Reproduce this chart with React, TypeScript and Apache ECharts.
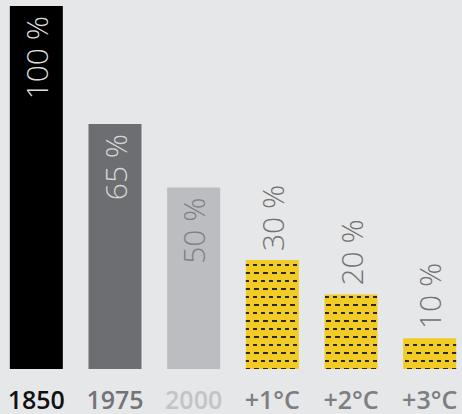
import React, { useEffect, useRef } from "react";
import * as echarts from "echarts";

const categories = ["1850", "1975", "2000", "+1°C", "+2°C", "+3°C"];
const values = [100, 67.5, 50, 30, 20.5, 8.5];
const valueLabels = ["100 %", "65 %", "50 %", "30 %", "20 %", "10 %"];
const barColors = ["#000000", "#6d6e71", "#bcbdc0", "#f2cb24", "#f2cb24", "#f2cb24"];
const labelColors = ["#dcdddf", "#d6d7d9", "#7f8083", "#707174", "#707174", "#707174"];
const labelInside = [true, true, true, false, false, false];
const catColors = ["#111111", "#737477", "#c3c4c6", "#7d7e81", "#7d7e81", "#7d7e81"];
const patterned = [false, false, false, true, true, true];

export default function App() {
  const ref = useRef<HTMLDivElement>(null);
  useEffect(() => {
    if (!ref.current) return;
    const chart = echarts.init(ref.current, null, { renderer: "svg" });
    const decal = {
      symbol: "rect",
      symbolSize: 1,
      color: "#2a2a2a",
      dashArrayX: [
        [4, 3.3],
        [0.35, 3.3, 3.65, 0],
      ],
      dashArrayY: [1.3, 5.3],
      rotation: 0,
    };
    chart.setOption({
      animation: false,
      backgroundColor: "#e6e7e8",
      grid: { left: 0, right: 0, top: 6, bottom: 45, containLabel: false },
      xAxis: {
        type: "category",
        data: categories.map((c, i) => ({
          value: c,
          textStyle: { color: catColors[i] },
        })),
        axisLine: { show: false },
        axisTick: { show: false },
        axisLabel: {
          margin: 17,
          fontSize: 25,
          fontWeight: 600,
          fontFamily: "Open Sans",
          interval: 0,
        },
      },
      yAxis: {
        type: "value",
        min: 0,
        max: 100,
        show: false,
        splitLine: { show: false },
      },
      series: [
        {
          type: "bar",
          barWidth: 53,
          data: values.map((v, i) => ({
            value: v,
            itemStyle: {
              color: barColors[i],
              decal: patterned[i] ? decal : undefined,
            },
            label: {
              show: true,
              formatter: valueLabels[i],
              rotate: 90,
              position: labelInside[i] ? "insideTop" : "top",
              align: labelInside[i] ? "right" : "left",
              verticalAlign: "middle",
              distance: labelInside[i] ? 10 : 9,
              color: labelColors[i],
              fontSize: 30,
              fontWeight: 300,
              fontFamily: "Open Sans",
            },
          })),
        },
      ],
    });
    return () => chart.dispose();
  }, []);
  return (
    <div
      ref={ref}
      style={{ position: "fixed", left: -3, top: 0, width: 472, height: 414 }}
    />
  );
}
